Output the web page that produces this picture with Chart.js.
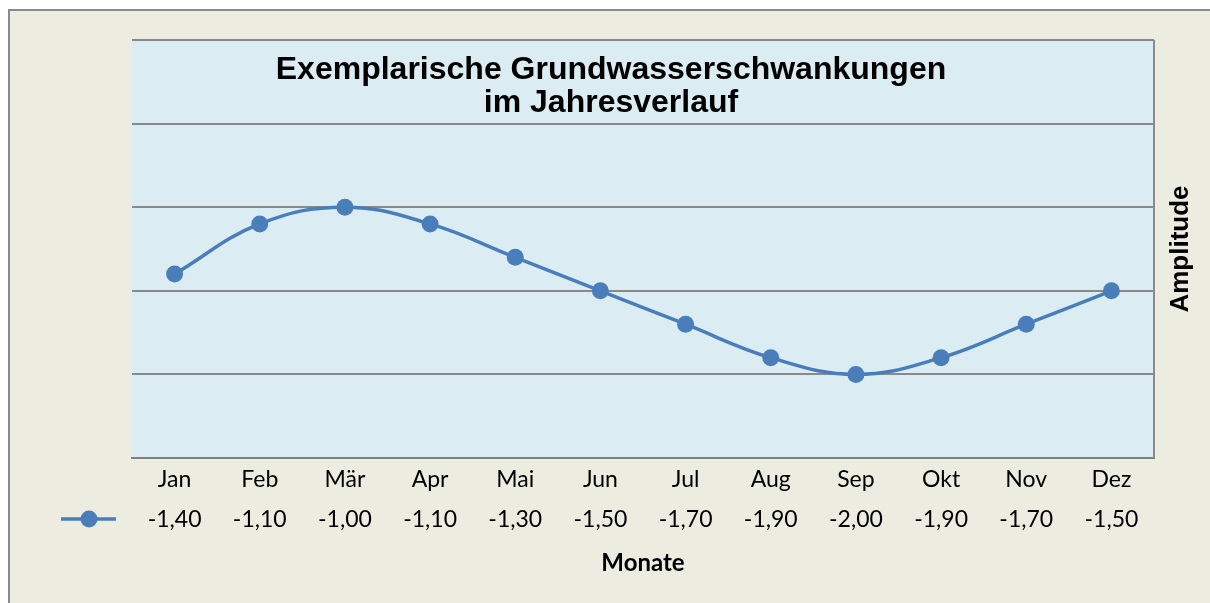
<!DOCTYPE html>
<html>
<head>
<meta charset="utf-8">
<script src="https://cdn.jsdelivr.net/npm/chart.js@4"></script>
<style>
  html, body { margin: 0; padding: 0; background: #ffffff; }
  #wrap { width: 1210px; height: 603px; }
</style>
</head>
<body>
<div id="wrap"><canvas id="chart" width="1210" height="603"></canvas></div>
<script>
// Monate und Werte
const monate = ['Jan', 'Feb', 'Mär', 'Apr', 'Mai', 'Jun', 'Jul', 'Aug', 'Sep', 'Okt', 'Nov', 'Dez'];
const amplitude = [-1.4, -1.1, -1.0, -1.1, -1.3, -1.5, -1.7, -1.9, -2.0, -1.9, -1.7, -1.5];
const titelZeilen = ['Exemplarische Grundwasserschwankungen', 'im Jahresverlauf'];

const blau = '#4a7ebb';
const textFont = 'Lato, "Open Sans", sans-serif';
const titelFont = '"Liberation Sans", Arial, sans-serif';

const fmt = v => v.toFixed(2).replace('.', ',');

// Hintergrund, Rahmen, Titel und Datentabelle
const deko = {
  id: 'deko',
  beforeDraw(chart) {
    const { ctx, chartArea: a } = chart;
    ctx.save();
    ctx.fillStyle = '#ecede0';
    ctx.fillRect(9, 10, chart.width - 9, chart.height - 10);
    ctx.strokeStyle = '#8a8a8a';
    ctx.lineWidth = 2;
    ctx.beginPath();
    ctx.moveTo(9, chart.height);
    ctx.lineTo(9, 10);
    ctx.lineTo(chart.width, 10);
    ctx.stroke();
    ctx.fillStyle = '#dbedf3';
    ctx.fillRect(a.left, a.top, a.right - a.left, a.bottom - a.top);
    ctx.restore();
  },
  afterDraw(chart) {
    const { ctx, chartArea: a } = chart;
    const x = chart.scales.x;
    ctx.save();
    // rechte Kante
    ctx.strokeStyle = '#8a8a8a';
    ctx.lineWidth = 2;
    ctx.beginPath();
    ctx.moveTo(a.right, a.top);
    ctx.lineTo(a.right, a.bottom);
    ctx.stroke();

    // Titel
    ctx.fillStyle = '#000';
    ctx.font = 'bold 32px ' + titelFont;
    ctx.textAlign = 'center';
    ctx.textBaseline = 'middle';
    titelZeilen.forEach((t, i) => ctx.fillText(t, 611, 70 + i * 33));

    // Achsentitel rechts
    ctx.save();
    ctx.translate(1181, 249);
    ctx.rotate(-Math.PI / 2);
    ctx.font = 'bold 26px ' + titelFont;
    ctx.fillText('Amplitude', 0, 0);
    ctx.restore();

    // Wertezeile
    ctx.font = '23px ' + textFont;
    amplitude.forEach((v, i) => ctx.fillText(fmt(v), x.getPixelForValue(i), 520));

    // Legendensymbol
    ctx.strokeStyle = blau;
    ctx.lineWidth = 3.5;
    ctx.beginPath();
    ctx.moveTo(61, 519);
    ctx.lineTo(116, 519);
    ctx.stroke();
    ctx.fillStyle = blau;
    ctx.beginPath();
    ctx.arc(89, 519, 8.5, 0, Math.PI * 2);
    ctx.fill();

    // Monate
    ctx.fillStyle = '#000';
    ctx.font = 'bold 24px ' + textFont;
    ctx.fillText('Monate', 643, 563);
    ctx.restore();
  }
};

new Chart(document.getElementById('chart'), {
  type: 'line',
  data: {
    labels: monate,
    datasets: [{
      label: 'Amplitude',
      data: amplitude,
      borderColor: blau,
      backgroundColor: blau,
      borderWidth: 3.5,
      pointRadius: 8.5,
      pointHoverRadius: 8.5,
      pointBorderWidth: 0,
      tension: 0.4,
      fill: false
    }]
  },
  options: {
    responsive: false,
    animation: false,
    layout: { padding: { left: 132, right: 56, top: 40, bottom: 0 } },
    plugins: {
      legend: { display: false },
      title: { display: false },
      tooltip: { enabled: false }
    },
    scales: {
      x: {
        offset: true,
        grid: { display: false, drawTicks: false },
        border: { display: true, color: '#7f7f7f', width: 2 },
        ticks: {
          color: '#000',
          font: { family: textFont, size: 23 },
          padding: 8
        },
        afterFit(s) { s.height = 145; }
      },
      y: {
        min: -2.5,
        max: 0,
        ticks: { display: false, stepSize: 0.5 },
        grid: { color: '#8a8a8a', lineWidth: 2, drawTicks: false },
        border: { display: false },
        afterFit(s) { s.width = 0; }
      }
    }
  },
  plugins: [deko]
});
</script>
</body>
</html>
